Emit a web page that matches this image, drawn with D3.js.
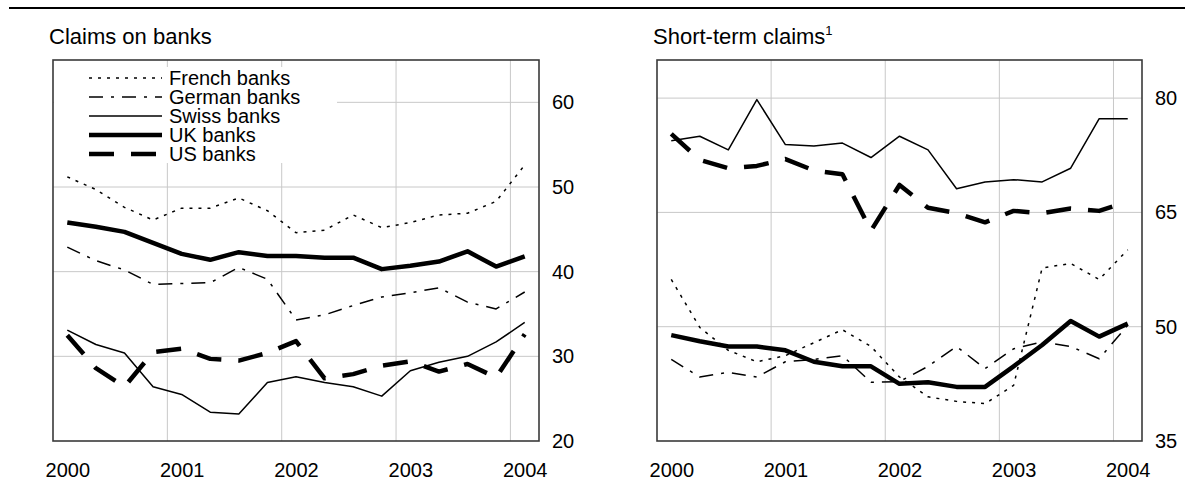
<!DOCTYPE html>
<html>
<head>
<meta charset="utf-8">
<script src="https://cdn.jsdelivr.net/npm/d3@7/dist/d3.min.js"></script>
<style>
  html, body { margin: 0; padding: 0; background: #fff; }
  svg { display: block; font-family: "Liberation Sans", Arial, Helvetica, sans-serif; }
</style>
</head>
<body>
<svg id="chart" width="1185" height="488"></svg>
<script>
// Two small panels of bank claims, quarterly 2000Q1-2004Q1, read off the
// reference picture. Left: claims on banks, right: short-term claims.

const d3 = window.d3;

const QUARTERS = [
  '2000Q1', '2000Q2', '2000Q3', '2000Q4',
  '2001Q1', '2001Q2', '2001Q3', '2001Q4',
  '2002Q1', '2002Q2', '2002Q3', '2002Q4',
  '2003Q1', '2003Q2', '2003Q3', '2003Q4',
  '2004Q1',
];
const YEAR_TICKS = [2000, 2001, 2002, 2003, 2004];

const SERIES_KEYS = ['french', 'german', 'swiss', 'uk', 'us'];
const SERIES_LABELS = ['French banks', 'German banks', 'Swiss banks', 'UK banks', 'US banks'];

// Claims on banks
const BANKS_Y_TICKS = [20, 30, 40, 50, 60];
const BANKS_FRENCH = [51.2, 49.7, 47.6, 46.1, 47.5, 47.5, 48.7, 47.2, 44.6, 44.9, 46.7, 45.2, 45.8, 46.7, 46.9, 48.3, 52.6];
const BANKS_GERMAN = [42.9, 41.3, 40.2, 38.5, 38.6, 38.7, 40.5, 39.1, 34.3, 34.9, 36.0, 37.0, 37.5, 38.1, 36.4, 35.6, 37.6];
const BANKS_SWISS = [33.1, 31.4, 30.4, 26.4, 25.5, 23.4, 23.2, 26.9, 27.6, 26.9, 26.4, 25.3, 28.3, 29.3, 30.0, 31.7, 34.0];
const BANKS_UK = [45.8, 45.3, 44.7, 43.4, 42.1, 41.4, 42.3, 41.85, 41.85, 41.65, 41.65, 40.3, 40.7, 41.2, 42.4, 40.6, 41.8];
const BANKS_US = [32.5, 28.6, 26.4, 30.5, 30.9, 29.7, 29.5, 30.4, 31.8, 27.4, 27.9, 28.9, 29.4, 28.2, 29.1, 27.5, 32.6];

// Short-term claims
const SHORT_Y_TICKS = [35, 50, 65, 80];
const SHORT_FRENCH = [56.2, 49.9, 46.9, 45.4, 46.2, 47.9, 49.6, 47.4, 43.4, 40.8, 40.2, 39.9, 42.3, 57.7, 58.3, 56.2, 60.1];
const SHORT_GERMAN = [45.7, 43.4, 44.0, 43.4, 45.4, 45.7, 46.2, 42.7, 42.8, 44.8, 47.4, 44.5, 47.1, 48.0, 47.4, 45.8, 50.2];
const SHORT_SWISS = [74.4, 75.0, 73.2, 79.8, 73.9, 73.7, 74.1, 72.2, 75.0, 73.2, 68.1, 69.0, 69.3, 69.0, 70.8, 77.3, 77.3];
const SHORT_UK = [48.9, 48.1, 47.4, 47.4, 46.9, 45.4, 44.8, 44.8, 42.5, 42.7, 42.1, 42.1, 44.8, 47.6, 50.75, 48.7, 50.4];
const SHORT_US = [75.3, 71.9, 70.8, 71.1, 72.0, 70.5, 70.0, 62.6, 68.6, 65.6, 64.9, 63.7, 65.2, 64.9, 65.5, 65.2, 66.4];

// Line styles per series (black only, told apart by dash and weight).
const SERIES_STYLES = {
  french: { width: 1.5, dash: '3,6' },
  german: { width: 1.5, dash: '14,8,3,8' },
  swiss: { width: 1.5, dash: null },
  uk: { width: 4.5, dash: null },
  us: { width: 4.5, dash: '25,17' },
};

const FONT_TITLE = 22;
const FONT_TICK = 20;
const FONT_LEGEND = 20;
const PLOT_TOP = 60;
const PLOT_BOTTOM = 441;
const GRID_COLOR = '#c8c8c8';

// quarter label -> decimal year at the middle of the quarter
const quarterPos = (q) => +q.slice(0, 4) + (+q.slice(5) - 1) / 4 + 0.125;

const svg = d3.select('#chart');

// rule across the top of the page
svg.append('line')
  .attr('x1', 9).attr('x2', 1185)
  .attr('y1', 8).attr('y2', 8)
  .attr('stroke', '#000').attr('stroke-width', 2);

function drawPanel({ left, right, yDomain, yTicks, title, footnote, values, legend }) {
  const x = d3.scaleLinear().domain([2000, 2004.25]).range([left, right]);
  const y = d3.scaleLinear().domain(yDomain).range([PLOT_BOTTOM, PLOT_TOP]);
  const g = svg.append('g');

  // grid: year boundaries and value ticks (the bottom tick sits on the frame)
  g.append('g').selectAll('line')
    .data(YEAR_TICKS.slice(1))
    .join('line')
    .attr('x1', (d) => x(d)).attr('x2', (d) => x(d))
    .attr('y1', PLOT_TOP).attr('y2', PLOT_BOTTOM)
    .attr('stroke', GRID_COLOR).attr('stroke-width', 1);
  g.append('g').selectAll('line')
    .data(yTicks.filter((t) => t > yDomain[0]))
    .join('line')
    .attr('x1', left).attr('x2', right)
    .attr('y1', (d) => y(d)).attr('y2', (d) => y(d))
    .attr('stroke', GRID_COLOR).attr('stroke-width', 1);

  // legend sits on a white box that hides the grid behind it
  if (legend) {
    g.append('rect')
      .attr('x', left + 1).attr('y', 67)
      .attr('width', 336 - left).attr('height', 96)
      .attr('fill', '#fff');
  }

  const line = d3.line()
    .x((d) => x(d.t))
    .y((d) => y(d.v));

  SERIES_KEYS.forEach((key, i) => {
    const pts = QUARTERS.map((q, j) => ({ t: quarterPos(q), v: values[i][j] }));
    const st = SERIES_STYLES[key];
    g.append('path')
      .datum(pts)
      .attr('class', `series-${key}`)
      .attr('fill', 'none')
      .attr('stroke', '#000')
      .attr('stroke-width', st.width)
      .attr('stroke-dasharray', st.dash)
      .attr('stroke-linejoin', 'round')
      .attr('d', line);
  });

  // frame
  g.append('rect')
    .attr('x', left).attr('y', PLOT_TOP)
    .attr('width', right - left).attr('height', PLOT_BOTTOM - PLOT_TOP)
    .attr('fill', 'none').attr('stroke', '#3a3a3a').attr('stroke-width', 1.6);

  // axes: labels only, no ticks or domain line; year labels sit under Q1
  const xAxis = g.append('g')
    .attr('transform', `translate(0,${PLOT_BOTTOM})`)
    .call(d3.axisBottom(x)
      .tickValues(YEAR_TICKS.map((t) => t + 0.125))
      .tickFormat((d) => String(Math.floor(d)))
      .tickSize(0).tickPadding(22));
  const yAxis = g.append('g')
    .attr('transform', `translate(${right},0)`)
    .call(d3.axisRight(y).tickValues(yTicks).tickSize(0).tickPadding(13));
  [xAxis, yAxis].forEach((a) => {
    a.select('.domain').remove();
    a.attr('font-family', null).attr('font-size', FONT_TICK);
    a.selectAll('text').attr('fill', '#000');
  });

  const t = g.append('text')
    .attr('x', left - 4).attr('y', 44)
    .attr('font-size', FONT_TITLE)
    .text(title);
  if (footnote) {
    t.append('tspan')
      .attr('dy', -9).attr('font-size', 13)
      .text(footnote);
  }

  if (legend) {
    const rowH = 19;
    const items = g.append('g').attr('transform', `translate(${left + 36},78)`);
    SERIES_KEYS.forEach((key, i) => {
      const st = SERIES_STYLES[key];
      const row = items.append('g').attr('transform', `translate(0,${i * rowH})`);
      row.append('line')
        .attr('x1', 0).attr('x2', 73)
        .attr('stroke', '#000')
        .attr('stroke-width', st.width)
        .attr('stroke-dasharray', st.dash);
      row.append('text')
        .attr('x', 80).attr('dy', '0.35em')
        .attr('font-size', FONT_LEGEND)
        .text(SERIES_LABELS[i]);
    });
  }
}

drawPanel({
  left: 53, right: 539,
  yDomain: [20, 65], yTicks: BANKS_Y_TICKS,
  title: 'Claims on banks',
  values: [BANKS_FRENCH, BANKS_GERMAN, BANKS_SWISS, BANKS_UK, BANKS_US],
  legend: true,
});

drawPanel({
  left: 657, right: 1142,
  yDomain: [35, 85], yTicks: SHORT_Y_TICKS,
  title: 'Short-term claims', footnote: '1',
  values: [SHORT_FRENCH, SHORT_GERMAN, SHORT_SWISS, SHORT_UK, SHORT_US],
  legend: false,
});
</script>
</body>
</html>
